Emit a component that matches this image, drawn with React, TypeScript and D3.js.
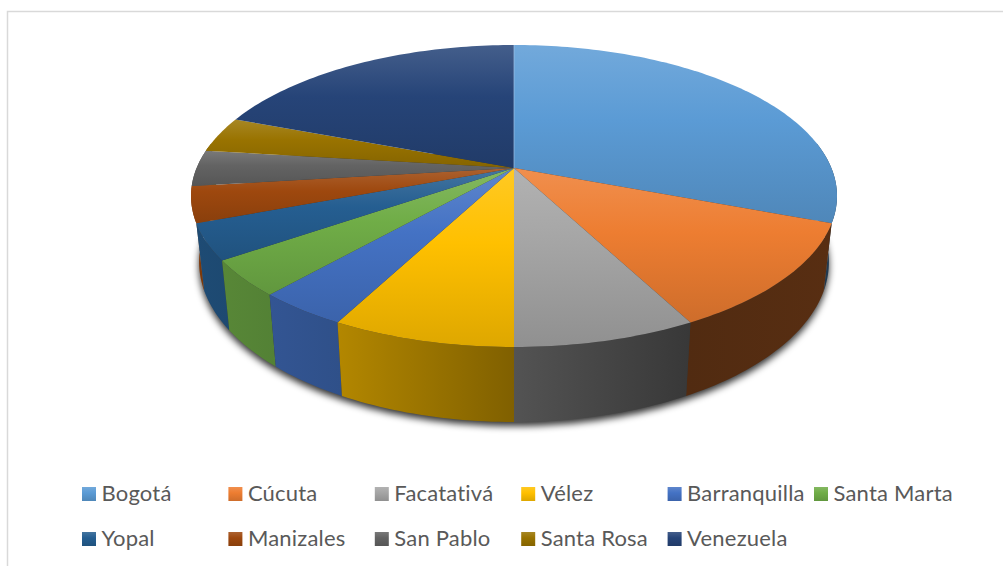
import React from "react";
import * as d3 from "d3";

const categories = ["Bogotá","Cúcuta","Facatativá","Vélez","Barranquilla","Santa Marta","Yopal","Manizales","San Pablo","Santa Rosa","Venezuela"];
const values = [8,3,2,2,1,1,1,1,1,1,5];
const colors = ["#5B9BD5","#ED7D31","#A5A5A5","#FFC000","#4472C4","#70AD47","#255E91","#9E480E","#636363","#997300","#264478"];

const W = 1003, H = 566;
const CX = 514, CY = 168, A = 317.4, B = 145.8, K = 0.1854;
const SX = 0.975, SY = 1.06, DEPTH = 64.3;

type P = [number, number];
const topPt = (t: number): P => {
  const x = Math.sin(t), y = -Math.cos(t), w = 1 - K * y;
  return [CX + (A * x) / w, CY + (B * y) / w];
};
const botPt = (t: number): P => {
  const [x, y] = topPt(t);
  return [CX + (x - CX) * SX, CY + DEPTH + (y - CY) * SY];
};
const samples = (a0: number, a1: number, f: (t: number) => P) => {
  const n = Math.max(2, Math.ceil((a1 - a0) / 0.02));
  return d3.range(n + 1).map((i) => f(a0 + ((a1 - a0) * i) / n));
};
const line = d3.line<P>();
const pie = d3.pie<number>().sort(null).startAngle(0).endAngle(2 * Math.PI);
const arcs = pie(values);

const shade = d3.scaleLinear<number>().domain([195, 340, 514, 685, 835]).range([0.8, 0.7, 0.5, 0.34, 0.37]).clamp(true);
const mix = (c: string, o: string, t: number) => d3.interpolateRgb(c, o)(t);
const VIS0 = (80 * Math.PI) / 180, VIS1 = (280 * Math.PI) / 180;

const sides = arcs
  .map((a, i) => ({ i, a0: Math.max(a.startAngle, VIS0), a1: Math.min(a.endAngle, VIS1) }))
  .filter((s) => s.a1 > s.a0)
  .map((s) => {
    const t = samples(s.a0, s.a1, topPt), b = samples(s.a0, s.a1, botPt);
    const xs = [...t, ...b].map((p) => p[0]);
    return { ...s, d: line([...t, ...b.reverse()])! + "Z", x0: d3.min(xs)!, x1: d3.max(xs)!, y: d3.max(t, (p) => p[1])! };
  })
  .sort((p, q) => p.y - q.y);

const legendX = d3.scaleLinear().domain([0, 5]).range([82, 814]);
const legendY = d3.scaleLinear().domain([0, 1]).range([487, 532]);

export default function App() {
  return (
    <svg width={W} height={H} style={{ position: "absolute", left: 0, top: 0, background: "#fff" }}>
      <defs>
        <filter id="sh" x="150" y="150" width="720" height="320" filterUnits="userSpaceOnUse">
          <feGaussianBlur stdDeviation="3.5" />
        </filter>
        {colors.map((c, i) => (
          <linearGradient key={i} id={`top${i}`} x1="0" y1="0" x2="0" y2="1">
            <stop offset="0" stopColor={mix(c, "#fff", 0.14)} />
            <stop offset="0.42" stopColor={c} />
            <stop offset="1" stopColor={mix(c, "#000", 0.13)} />
          </linearGradient>
        ))}
        {sides.map((s) => (
          <linearGradient key={s.i} id={`side${s.i}`} x1="0" y1="0" x2="1" y2="0">
            <stop offset="0" stopColor={mix(colors[s.i], "#000", 1 - shade(s.x0))} />
            <stop offset="1" stopColor={mix(colors[s.i], "#000", 1 - shade(s.x1))} />
          </linearGradient>
        ))}
      </defs>
      <path d="M7.5 566V11.5H1003" fill="none" stroke="#d9d9d9" strokeWidth={1.5} />
      <path
        d={line(samples(0, 2 * Math.PI, botPt))! + "Z"}
        transform="translate(0,4)"
        fill="#000"
        fillOpacity={0.8}
        filter="url(#sh)"
      />
      {sides.map((s) => (
        <path key={s.i} d={s.d} fill={`url(#side${s.i})`} />
      ))}
      {arcs.map((a, i) => (
        <path
          key={i}
          d={line([[CX, CY], ...samples(a.startAngle, a.endAngle, topPt)])! + "Z"}
          fill={`url(#top${i})`}
        />
      ))}
      <path d={line([[CX, CY], topPt(0)])!} stroke="#9cc0e6" strokeOpacity={0.7} strokeWidth={1} fill="none" />
      <g fontFamily="Lato, Carlito, sans-serif" fontSize={22} letterSpacing={0.2} fill="#595959">
        {categories.map((c, i) => {
          const col = i % 6, row = Math.floor(i / 6);
          return (
            <g key={c}>
              <rect x={legendX(col)} y={legendY(row)} width={14} height={14} fill={`url(#top${i})`} />
              <text x={legendX(col) + 19.5} y={legendY(row) + 14}>{c}</text>
            </g>
          );
        })}
      </g>
    </svg>
  );
}
